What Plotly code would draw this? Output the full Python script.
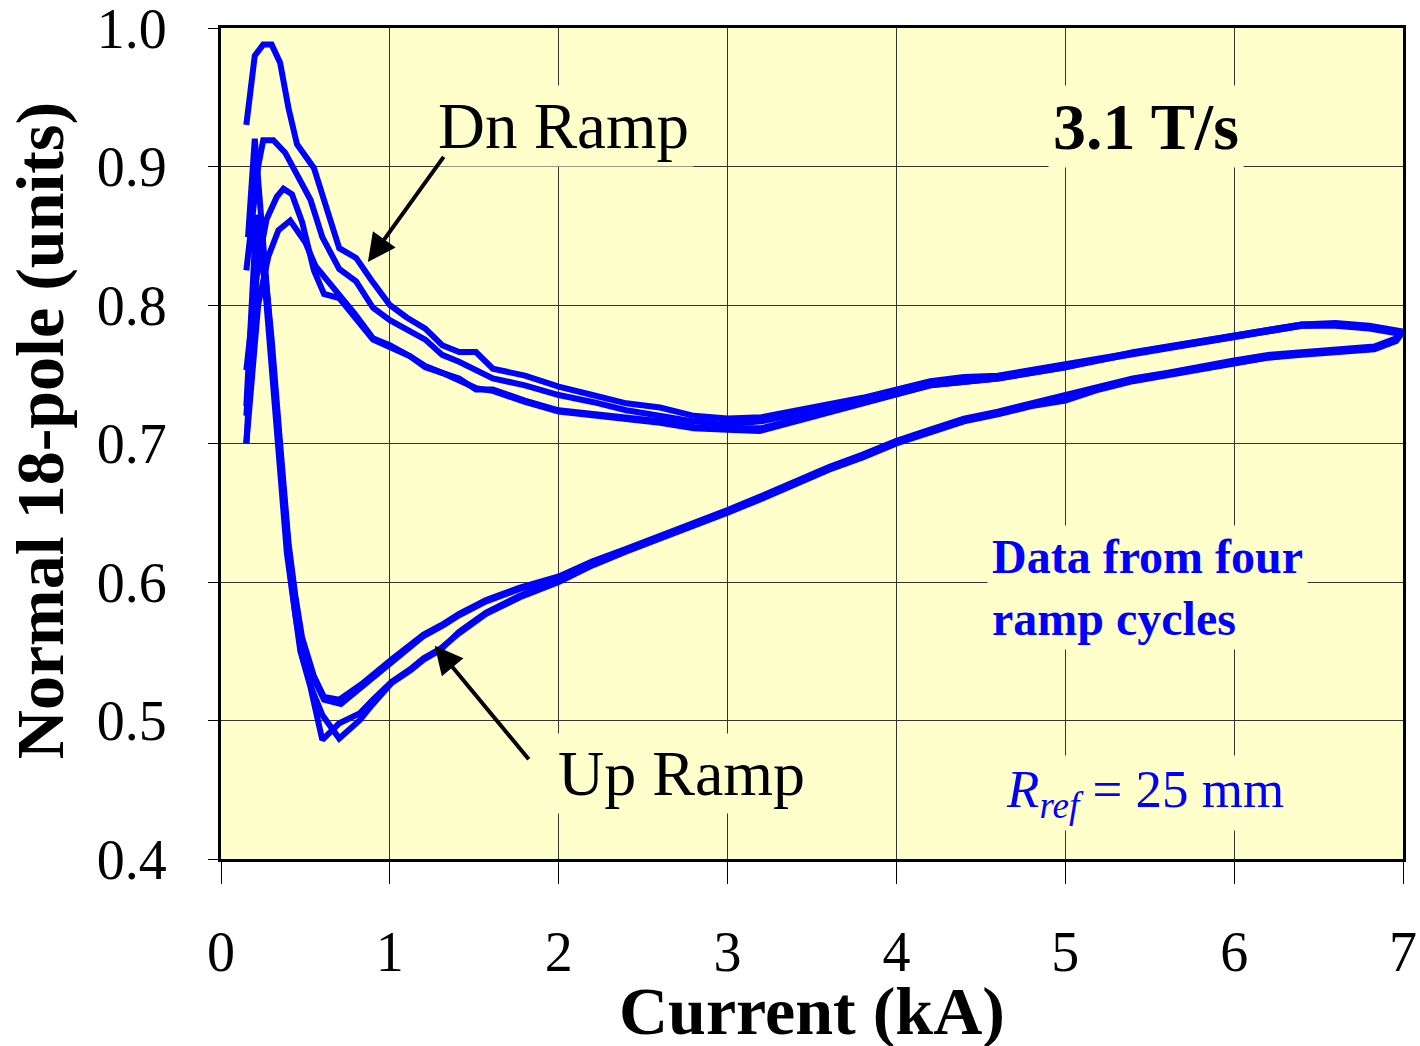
import plotly.graph_objects as go

# ---- Data (current in kA, normal 18-pole in units), four ramp cycles ----
# Each cycle: up ramp (low -> high current) followed by down ramp (high -> low)
cycA_I = [0.16, 0.20, 0.23, 0.26, 0.30, 0.35, 0.40, 0.44, 0.48, 0.54, 0.60, 0.70, 0.82, 0.90, 1.01, 1.12, 1.20,
          1.30, 1.41, 1.57, 1.77, 2.00, 2.20, 2.40, 2.60, 2.80, 3.00, 3.20, 3.40, 3.60, 3.80, 4.00, 4.20, 4.40,
          4.60, 4.80, 5.00, 5.20, 5.40, 5.60, 5.80, 6.00, 6.20, 6.40, 6.60, 6.83, 6.96,
          6.99, 6.80, 6.60, 6.40, 6.20, 6.00, 5.80, 5.40, 5.00, 4.60, 4.40, 4.20, 3.80, 3.60, 3.40, 3.20, 3.00,
          2.80, 2.60, 2.40, 2.20, 2.00, 1.80, 1.61, 1.51, 1.41, 1.31, 1.21, 1.10, 1.00, 0.89, 0.80, 0.70, 0.55,
          0.45, 0.40, 0.35, 0.30, 0.25, 0.20, 0.15]
cycA_v = [0.849, 0.920, 0.875, 0.825, 0.768, 0.690, 0.617, 0.577, 0.547, 0.522, 0.504, 0.487, 0.500, 0.512, 0.527,
          0.536, 0.544, 0.551, 0.564, 0.578, 0.590, 0.601, 0.613, 0.623, 0.632, 0.641, 0.651, 0.661, 0.672, 0.682,
          0.691, 0.701, 0.709, 0.717, 0.722, 0.728, 0.732, 0.740, 0.746, 0.750, 0.755, 0.759, 0.762, 0.765, 0.767,
          0.769, 0.775,
          0.780, 0.784, 0.786, 0.786, 0.782, 0.778, 0.773, 0.766, 0.757, 0.749, 0.748, 0.745, 0.733, 0.728, 0.723,
          0.719, 0.718, 0.720, 0.726, 0.729, 0.735, 0.741, 0.749, 0.754, 0.766, 0.766, 0.771, 0.783, 0.791, 0.800,
          0.818, 0.834, 0.841, 0.899, 0.916, 0.942, 0.975, 0.988, 0.988, 0.980, 0.930]

cycB_I = [0.15, 0.21, 0.25, 0.29, 0.34, 0.39, 0.43, 0.47, 0.53, 0.60, 0.70, 0.82, 0.90, 1.01, 1.12, 1.20, 1.30,
          1.41, 1.57, 1.77, 2.00, 2.20, 2.40, 2.60, 2.80, 3.00, 3.20, 3.40, 3.60, 3.80, 4.00, 4.20, 4.40, 4.60,
          4.80, 5.00, 5.20, 5.40, 5.60, 5.80, 6.00, 6.20, 6.40, 6.60, 6.83, 6.96,
          6.99, 6.80, 6.60, 6.40, 6.20, 6.00, 5.80, 5.40, 5.00, 4.60, 4.20, 3.80, 3.40, 3.20, 3.00, 2.80, 2.60,
          2.40, 2.20, 2.00, 1.80, 1.61, 1.41, 1.31, 1.21, 1.12, 1.00, 0.90, 0.80, 0.70, 0.60, 0.53, 0.45, 0.38,
          0.31, 0.25, 0.22, 0.15]
cycB_v = [0.727, 0.865, 0.830, 0.770, 0.692, 0.621, 0.585, 0.550, 0.524, 0.486, 0.498, 0.505, 0.515, 0.528, 0.537,
          0.545, 0.552, 0.563, 0.577, 0.589, 0.600, 0.612, 0.622, 0.631, 0.640, 0.650, 0.660, 0.671, 0.681, 0.690,
          0.700, 0.708, 0.716, 0.721, 0.727, 0.731, 0.739, 0.745, 0.749, 0.754, 0.758, 0.762, 0.764, 0.766, 0.768,
          0.774,
          0.779, 0.783, 0.785, 0.785, 0.781, 0.777, 0.772, 0.765, 0.756, 0.748, 0.744, 0.732, 0.721, 0.716, 0.714,
          0.716, 0.720, 0.724, 0.730, 0.735, 0.742, 0.747, 0.759, 0.764, 0.775, 0.781, 0.789, 0.798, 0.817, 0.826,
          0.849, 0.876, 0.895, 0.910, 0.919, 0.919, 0.900, 0.825]

cycC_I = [0.15, 0.22, 0.26, 0.30, 0.35, 0.40, 0.44, 0.48, 0.55, 0.61, 0.70, 0.84, 1.02, 1.20, 1.32, 1.41, 1.57,
          1.77, 2.00, 2.20, 2.40, 2.60, 2.80, 3.00, 3.20, 3.40, 3.60, 3.80, 4.00, 4.20, 4.40, 4.60, 4.80, 5.00,
          5.20, 5.40, 5.60, 5.80, 6.00, 6.20, 6.40, 6.60, 6.83, 6.96,
          6.99, 6.80, 6.60, 6.40, 6.20, 6.00, 5.80, 5.40, 5.00, 4.60, 4.20, 3.80, 3.60, 3.40, 3.20, 3.00, 2.80,
          2.60, 2.40, 2.00, 1.80, 1.61, 1.51, 1.41, 1.31, 1.21, 1.12, 1.00, 0.90, 0.80, 0.70, 0.61, 0.55, 0.48,
          0.42, 0.37, 0.33, 0.27, 0.22, 0.15]
cycC_v = [0.700, 0.850, 0.825, 0.775, 0.700, 0.628, 0.590, 0.560, 0.532, 0.517, 0.515, 0.527, 0.545, 0.562, 0.570,
          0.577, 0.587, 0.596, 0.604, 0.615, 0.624, 0.633, 0.642, 0.652, 0.662, 0.673, 0.683, 0.692, 0.702, 0.710,
          0.718, 0.723, 0.729, 0.734, 0.741, 0.747, 0.751, 0.756, 0.760, 0.764, 0.766, 0.768, 0.770, 0.776,
          0.781, 0.785, 0.787, 0.786, 0.782, 0.778, 0.773, 0.766, 0.755, 0.747, 0.742, 0.730, 0.724, 0.717, 0.711,
          0.711, 0.712, 0.716, 0.719, 0.724, 0.731, 0.739, 0.739, 0.747, 0.751, 0.755, 0.763, 0.770, 0.775, 0.790,
          0.805, 0.808, 0.825, 0.860, 0.880, 0.884, 0.878, 0.862, 0.830, 0.753]

cycD_I = [0.15, 0.22, 0.26, 0.30, 0.35, 0.40, 0.44, 0.48, 0.55, 0.61, 0.71, 0.84, 1.02, 1.20, 1.32, 1.41, 1.57,
          1.77, 2.00, 2.20, 2.40, 2.60, 2.80, 3.00, 3.20, 3.40, 3.60, 3.80, 4.00, 4.20, 4.40, 4.60, 4.80, 5.00,
          5.20, 5.40, 5.60, 5.80, 6.00, 6.20, 6.40, 6.60, 6.83, 6.96,
          6.99, 6.80, 6.60, 6.40, 6.20, 6.00, 5.80, 5.40, 5.00, 4.60, 4.20, 3.80, 3.60, 3.40, 3.19, 3.00, 2.80,
          2.60, 2.40, 2.00, 1.80, 1.61, 1.51, 1.41, 1.31, 1.21, 1.12, 1.00, 0.90, 0.79, 0.69, 0.56, 0.50, 0.41,
          0.34, 0.28, 0.22, 0.15]
cycD_v = [0.720, 0.840, 0.818, 0.768, 0.694, 0.624, 0.588, 0.557, 0.530, 0.515, 0.512, 0.525, 0.543, 0.561, 0.569,
          0.576, 0.586, 0.595, 0.603, 0.614, 0.623, 0.632, 0.641, 0.651, 0.661, 0.672, 0.682, 0.691, 0.701, 0.709,
          0.717, 0.722, 0.728, 0.733, 0.740, 0.746, 0.750, 0.755, 0.759, 0.763, 0.765, 0.767, 0.769, 0.775,
          0.780, 0.784, 0.786, 0.785, 0.781, 0.777, 0.772, 0.765, 0.755, 0.747, 0.742, 0.729, 0.723, 0.716, 0.709,
          0.710, 0.711, 0.715, 0.718, 0.723, 0.730, 0.738, 0.740, 0.746, 0.751, 0.756, 0.763, 0.771, 0.776, 0.794,
          0.809, 0.828, 0.845, 0.861, 0.854, 0.835, 0.800, 0.700]

cycles = [(cycA_I, cycA_v), (cycB_I, cycB_v), (cycC_I, cycC_v), (cycD_I, cycD_v)]

x_ticks = [0, 1, 2, 3, 4, 5, 6, 7]
y_ticks = [0.4, 0.5, 0.6, 0.7, 0.8, 0.9, 1.0]

SERIF = "Liberation Serif, Times New Roman, serif"
BG = "#FFFFCC"
BLUE = "#0000FF"

fig = go.Figure()
for I, v in cycles:
    fig.add_trace(go.Scatter(x=I, y=v, mode="lines",
                             line=dict(color=BLUE, width=6),
                             showlegend=False, hoverinfo="skip"))

fig.update_layout(
    width=1420, height=1046,
    margin=dict(l=221, r=17, t=28, b=187),
    paper_bgcolor="white",
    plot_bgcolor=BG,
    font=dict(family=SERIF, color="black"),
)

fig.update_xaxes(range=[0, 7], tickvals=x_ticks, ticktext=[str(t) for t in x_ticks],
                 automargin=False, ticklabeloverflow="allow",
                 showgrid=True, gridcolor="#333333", gridwidth=1,
                 zeroline=False, showline=True, linecolor="black", linewidth=3, mirror=True,
                 ticks="outside", ticklen=22, tickcolor="black", tickwidth=1,
                 ticklabelstandoff=20,
                 tickfont=dict(family=SERIF, size=56, color="black"))
fig.update_yaxes(range=[0.4, 1.0], tickvals=y_ticks, ticktext=[f"{t:.1f}" for t in y_ticks],
                 automargin=False, ticklabeloverflow="allow",
                 showgrid=True, gridcolor="#333333", gridwidth=1,
                 zeroline=False, showline=True, linecolor="black", linewidth=3, mirror=True,
                 ticks="outside", ticklen=10, tickcolor="black", tickwidth=1,
                 ticklabelstandoff=30,
                 tickfont=dict(family=SERIF, size=56, color="black"))

# Axis titles
fig.add_annotation(text="<b>Current (kA)</b>", xref="paper", yref="paper", x=0.5, y=-0.183,
                   xanchor="center", yanchor="middle", showarrow=False,
                   font=dict(family=SERIF, size=68, color="black"))
fig.add_annotation(text="<b>Normal 18-pole (units)</b>", xref="paper", yref="paper", x=-0.153, y=0.515,
                   xanchor="center", yanchor="middle", textangle=-90, showarrow=False,
                   font=dict(family=SERIF, size=68, color="black"))

# Text labels
fig.add_annotation(text="Dn Ramp", x=2.03, y=0.929, xref="x", yref="y", showarrow=False,
                   font=dict(family=SERIF, size=65, color="black"), bgcolor=BG, borderpad=4)
fig.add_annotation(text="Up Ramp", x=2.73, y=0.462, xref="x", yref="y", showarrow=False,
                   font=dict(family=SERIF, size=64, color="black"), bgcolor=BG, borderpad=4)
fig.add_annotation(text="<b>3.1 T/s</b>", x=5.48, y=0.929, xref="x", yref="y", showarrow=False,
                   font=dict(family=SERIF, size=66, color="black"), bgcolor=BG, borderpad=4)
fig.add_annotation(text="<b>Data from four<br>ramp cycles</b>", x=4.535, y=0.596, xref="x", yref="y",
                   xanchor="left", align="left", showarrow=False,
                   font=dict(family=SERIF, size=48, color=BLUE), bgcolor=BG, borderpad=4)
fig.add_annotation(text="<i>R</i><sub><i>ref</i></sub> = 25 mm", x=5.47, y=0.448, xref="x", yref="y",
                   showarrow=False, font=dict(family=SERIF, size=53, color=BLUE), bgcolor=BG, borderpad=4)

# Arrows
fig.add_annotation(text="", x=0.87, y=0.831, ax=1.325, ay=0.908, xref="x", yref="y", axref="x", ayref="y",
                   showarrow=True, arrowhead=2, arrowsize=1.4, arrowwidth=4, arrowcolor="black")
fig.add_annotation(text="", x=1.266, y=0.554, ax=1.83, ay=0.471, xref="x", yref="y", axref="x", ayref="y",
                   showarrow=True, arrowhead=2, arrowsize=1.4, arrowwidth=4, arrowcolor="black")

fig.write_html("out.html")
